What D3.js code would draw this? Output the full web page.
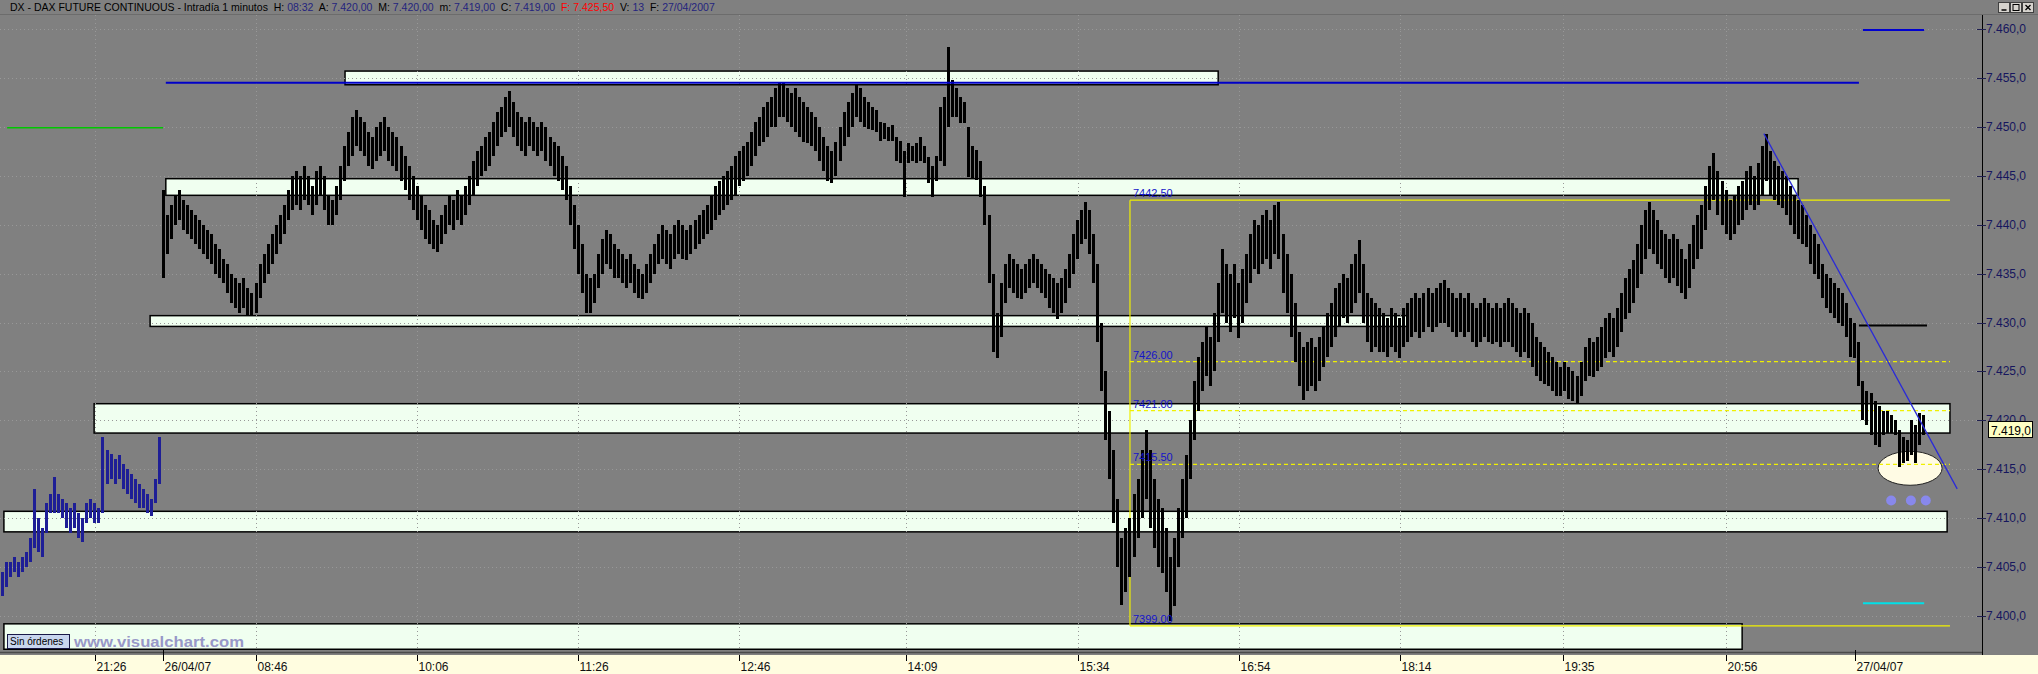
<!DOCTYPE html>
<html>
<head>
<meta charset="utf-8">
<script src="https://cdn.jsdelivr.net/npm/d3@7/dist/d3.min.js"></script>
<style>
  html, body { margin: 0; padding: 0; background: #808080; overflow: hidden; }
  text { white-space: pre; }
</style>
</head>
<body>
<div id="stage"></div>
<script>
// 2-minute high/low bars, previous session (25/04, blue)
const prevHigh = [7404.5, 7405.5, 7405.5, 7406, 7405.5, 7406, 7406.5, 7408, 7413, 7410,
  7409, 7411.5, 7412.5, 7414.2, 7412.5, 7412, 7411.5, 7411, 7411.5, 7410.5,
  7410, 7411.5, 7412, 7411.5, 7411, 7418.3, 7417, 7416.6, 7416, 7416.5,
  7415.5, 7415, 7414.5, 7414, 7413.5, 7413, 7412.5, 7412, 7414, 7418.3];
const prevLow = [7402, 7403, 7404, 7404.5, 7404, 7404.5, 7405, 7405.5, 7407, 7406.5,
  7406, 7408.5, 7410.5, 7410.5, 7410.5, 7410, 7409, 7408.5, 7409, 7408,
  7407.6, 7409.5, 7410, 7409.5, 7409.5, 7410.5, 7413.5, 7414, 7413.5, 7414,
  7413, 7412.5, 7412, 7411.5, 7411, 7411, 7410.5, 7410.2, 7411.5, 7413.5];

// 26/04 and 27/04 session (black), starting at bar 40
const dayHigh = [
  7443.5, 7441, 7442, 7443, 7443.5, 7442.5, 7442, 7441.5, 7441, 7440.5,
  7440, 7439.5, 7439, 7438, 7437.5, 7436.5, 7436, 7435, 7434.5, 7434,
  7434.5, 7433.5, 7433, 7434, 7436, 7437, 7438, 7439, 7440, 7441,
  7442, 7443.5, 7445, 7445.5, 7445, 7446, 7445, 7444, 7445.5, 7446,
  7445, 7443, 7442.5, 7444, 7446, 7448, 7449.5, 7451, 7451.7, 7451,
  7450.5, 7449.5, 7449, 7450, 7450.5, 7451, 7450, 7449.5, 7449, 7448,
  7447, 7446, 7445, 7444, 7443, 7442, 7441.5, 7440.5, 7440, 7441,
  7442, 7443, 7442.5, 7443.5, 7443, 7444, 7445, 7446.5, 7447.5, 7448,
  7449, 7449.5, 7450.5, 7451.5, 7452, 7453, 7453.7, 7452.5, 7451.5, 7451,
  7450.5, 7451, 7450.5, 7450, 7450.5, 7450, 7449, 7448.5, 7448, 7447,
  7446, 7444, 7442, 7440, 7438, 7435, 7434.5, 7435, 7437, 7438.5,
  7439.5, 7439, 7438, 7437.5, 7437, 7436.5, 7437, 7436, 7435.5, 7435,
  7436, 7437, 7438, 7439, 7440, 7439.5, 7439, 7440, 7440.5, 7440,
  7439.5, 7440, 7440.5, 7441, 7441.5, 7442, 7443, 7444, 7444.5, 7445,
  7445.5, 7446, 7447, 7447.5, 7448, 7448.5, 7449.5, 7450.5, 7451, 7452,
  7452.5, 7453, 7454, 7454.5, 7454.6, 7454, 7453.5, 7454, 7453, 7452.5,
  7452, 7451.5, 7451, 7450, 7449, 7448, 7447.5, 7448.5, 7450, 7451.5,
  7452.5, 7453.5, 7454.3, 7454, 7453, 7452.5, 7452, 7451.7, 7450.5, 7450.4,
  7450, 7450.2, 7449, 7448.6, 7447.5, 7448.3, 7448, 7448.3, 7449, 7448,
  7446.9, 7446, 7447, 7452, 7453, 7458.2, 7454.8, 7454, 7453, 7452.5,
  7450, 7448, 7447.6, 7446.5, 7444, 7441, 7435, 7431, 7434, 7436,
  7437, 7436.5, 7436, 7435.5, 7436, 7436.5, 7437, 7436.5, 7436, 7435.5,
  7435, 7434.5, 7434, 7434.5, 7435.5, 7437, 7439, 7440.5, 7441.5, 7442.3,
  7441.5, 7439, 7436, 7430, 7425, 7421, 7417, 7412, 7408, 7409,
  7410, 7412.5, 7414, 7417, 7419, 7417, 7414, 7412, 7411, 7409,
  7406, 7408, 7411, 7414, 7416.5, 7420, 7424, 7426.5, 7428, 7429.5,
  7428.5, 7431, 7434, 7437.5, 7436, 7435, 7436, 7434, 7435.5, 7437,
  7439, 7440.5, 7440, 7441, 7441.5, 7440.5, 7442, 7442.3, 7439, 7437,
  7435, 7432, 7429, 7427.5, 7428, 7428.4, 7427.5, 7428.5, 7429.5, 7431,
  7432, 7433.5, 7434, 7435, 7434.5, 7436, 7437, 7438.4, 7436, 7433,
  7432.5, 7432, 7431.5, 7431, 7430.5, 7431.5, 7431, 7430.5, 7431.5, 7432,
  7432.5, 7433, 7432.5, 7433, 7433.5, 7433, 7433.5, 7434, 7434.3, 7433.5,
  7433, 7432.5, 7433, 7432.5, 7433, 7432, 7431.5, 7432, 7432.5, 7432,
  7431.5, 7432, 7431.5, 7432, 7432.5, 7432, 7431.5, 7431, 7431.5, 7431,
  7430, 7428.5, 7428, 7427.5, 7427, 7426.5, 7426, 7425.5, 7426, 7425.5,
  7425, 7424.5, 7426, 7427.5, 7428.4, 7428, 7428.5, 7429.5, 7430.5, 7431,
  7430.5, 7431.5, 7433, 7434.5, 7435.5, 7436.4, 7438, 7440, 7441.5, 7442.3,
  7441.5, 7440.5, 7439.5, 7439, 7438.5, 7439, 7438.5, 7437.5, 7436.5, 7438,
  7440, 7441, 7442, 7444, 7446, 7447.3, 7445.5, 7444.5, 7443.5, 7442.5,
  7443, 7444, 7444.5, 7445.5, 7446, 7445, 7446.3, 7448, 7449.3, 7447.5,
  7446.5, 7446, 7445.5, 7445, 7444, 7443, 7442.5, 7442, 7441, 7440,
  7439, 7438, 7436, 7435, 7434.5, 7434, 7433.5, 7433, 7432, 7430.5,
  7430, 7428, 7424, 7423, 7422.8, 7422, 7421.5, 7421, 7421, 7420.5,
  7420, 7419, 7418.3, 7418, 7420, 7419.5, 7420.7, 7420.5];
const dayLow = [
  7434.5, 7437, 7438.5, 7440, 7440.5, 7439.5, 7439, 7438.5, 7438, 7437.5,
  7437, 7436.5, 7436, 7435, 7434.5, 7434, 7433, 7432, 7431.5, 7431,
  7431.5, 7430.8, 7430.8, 7431, 7432.5, 7434, 7435, 7436, 7437, 7438,
  7439, 7440.5, 7441.5, 7442, 7441.5, 7442.5, 7442, 7441, 7442, 7443,
  7441.5, 7440, 7440, 7441, 7442.5, 7444.5, 7446, 7447, 7448, 7447.5,
  7447, 7446, 7445.7, 7446.5, 7447, 7447.5, 7446.5, 7446, 7445.5, 7444.5,
  7443.5, 7442.5, 7441.5, 7440.5, 7439.5, 7438.5, 7438, 7437.5, 7437.2, 7438,
  7439, 7440, 7439.5, 7440.5, 7440, 7441, 7442, 7443, 7444, 7445,
  7445.5, 7446, 7447, 7448, 7449, 7449.5, 7450, 7449, 7448, 7447.5,
  7447, 7448, 7447.5, 7447, 7447.5, 7446.5, 7446, 7445, 7444.5, 7443.5,
  7442.5, 7440, 7437.5, 7435, 7433, 7431, 7431, 7432, 7433.5, 7435,
  7436, 7435.5, 7434.5, 7434.5, 7434, 7433.5, 7434, 7433, 7432.5, 7432.4,
  7433, 7434, 7435, 7436, 7436.5, 7436, 7435.5, 7436.5, 7437, 7436.5,
  7436.4, 7437, 7437.5, 7438, 7438.5, 7439, 7439.5, 7440.5, 7441, 7441.5,
  7442, 7442.5, 7443, 7444, 7444.5, 7445, 7446, 7447, 7448, 7448.5,
  7449, 7450, 7450, 7451, 7451, 7450.5, 7450, 7449.5, 7449, 7448.5,
  7448.3, 7448, 7447.5, 7446.5, 7445.5, 7444.5, 7444.3, 7445, 7446.5, 7448,
  7449, 7450, 7451, 7450.5, 7450, 7449.8, 7449.7, 7449.5, 7448.6, 7448.8,
  7448.6, 7448.6, 7446.5, 7446.3, 7442.8, 7446.3, 7446.5, 7446.3, 7446.5, 7446.3,
  7444.3, 7442.8, 7444.5, 7446.5, 7446, 7450, 7451, 7451, 7450.4, 7450.4,
  7444.9, 7444.8, 7444.6, 7442.8, 7440, 7434, 7427, 7426.4, 7428.5, 7432,
  7433.5, 7433, 7432.5, 7432.4, 7433, 7433.5, 7434, 7433.5, 7433, 7432.5,
  7431.5, 7431, 7430.4, 7431, 7432, 7433.5, 7435, 7436.5, 7438, 7438.5,
  7437, 7434, 7428, 7423, 7418, 7414, 7409.5, 7405, 7401.1, 7402.5,
  7404, 7406, 7408, 7410, 7412, 7409, 7407, 7405, 7404.4, 7402.5,
  7399.5, 7401, 7405, 7408, 7410, 7414, 7418, 7421, 7423, 7424.5,
  7423.5, 7425, 7428, 7431, 7430, 7429, 7430.5, 7428.4, 7430, 7432,
  7434, 7435.5, 7435, 7436, 7436.5, 7435.5, 7437, 7436.5, 7433, 7431,
  7428.5, 7426, 7423.5, 7422.1, 7423, 7423.5, 7423, 7424, 7425.5, 7426.5,
  7427.5, 7428.5, 7429.5, 7430.5, 7430, 7431, 7432, 7433, 7430, 7428,
  7427, 7427.5, 7427, 7427, 7426.5, 7427.5, 7427, 7426.4, 7427.5, 7428,
  7428.5, 7429, 7428.4, 7429, 7429.5, 7429, 7429.5, 7430, 7430, 7429.5,
  7429, 7428.5, 7429, 7428.5, 7429, 7428, 7427.5, 7428, 7428.5, 7428,
  7427.8, 7428, 7427.5, 7428, 7428, 7427.5, 7427, 7426.5, 7427, 7426.4,
  7425.5, 7424.5, 7424, 7423.7, 7423.5, 7423, 7422.5, 7422.5, 7423, 7422.2,
  7422, 7421.7, 7422.5, 7424, 7424.5, 7424.4, 7425, 7425.5, 7426.4, 7427,
  7426.5, 7427.5, 7429, 7430.4, 7431, 7432, 7433.5, 7435, 7436.5, 7437.5,
  7437, 7436, 7435.5, 7434.5, 7434, 7434.5, 7433.7, 7433, 7432.4, 7433.5,
  7435.5, 7436.5, 7437.5, 7439.5, 7441.5, 7442.5, 7441, 7440, 7439, 7438.4,
  7439, 7440, 7440.5, 7441.5, 7442, 7441.5, 7442, 7443, 7444.5, 7443,
  7442.5, 7442, 7441.7, 7441, 7440, 7439, 7438.5, 7438, 7437.7, 7436,
  7435, 7434.4, 7432.5, 7431.5, 7431, 7430.5, 7430, 7429.6, 7428.5, 7426.5,
  7426.4, 7423.5, 7420, 7419.5, 7418.5, 7417.5, 7417.3, 7418.5, 7418.7, 7418.7,
  7418.5, 7415.2, 7415.6, 7415.8, 7416.5, 7415.6, 7417.5, 7418.5];
const dayStart = 40;

// x axis: labels and their position in 2-minute bars
const xTickLabels = ['21:26', '26/04/07', '08:46', '10:06', '11:26', '12:46', '14:09',
  '15:34', '16:54', '18:14', '19:35', '20:56', '27/04/07'];
const xTickBars = [23, 40, 63, 103, 143, 183, 224.5, 267, 307, 347, 387.5, 428, 460];
const yTicks = [7400, 7405, 7410, 7415, 7420, 7425, 7430, 7435, 7440, 7445, 7450, 7455, 7460];

// support / resistance zones: [from bar, to bar, low, high]
const zones = [
  [85.1, 301.9, 7454.3, 7455.7],
  [40.6, 445.9, 7443.0, 7444.7],
  [36.7, 348.8, 7429.6, 7430.7],
  [22.8, 483.6, 7418.7, 7421.7],
  [0.4, 482.9, 7408.6, 7410.7],
  [0.4, 432.0, 7396.6, 7399.2]];

// fibonacci retracement from the 7399 low to 7442.5
const fibStart = 280, fibEnd = 483.6;
const fibLevels = [7442.5, 7426, 7421, 7415.5, 7399];
const fibLabels = ['7442.50', '7426.00', '7421.00', '7415.50', '7399.00'];

// horizontal marker lines: [from bar, to bar, price]
const blueLine = [40.6, 461, 7454.5];
const greenLine = [1.2, 39.9, 7449.9];
const blueShort = [462, 477.2, 7459.9];
const blackShort = [461, 477.9, 7429.7];
const cyanShort = [462, 477.2, 7401.3];
const trend = [[437.4, 7449.3], [485.4, 7413.0]];
const circleMark = [473.7, 7415.1];
const dotBars = [469, 473.9, 477.6];
const dotPrice = 7411.8;
const lastPrice = 7419;

const titleParts = [
  ['DX - DAX FUTURE CONTINUOUS - Intradía 1 minutos  H: ', 'k'], ['08:32', 'b'],
  ['  A: ', 'k'], ['7.420,00', 'b'], ['  M: ', 'k'], ['7.420,00', 'b'],
  ['  m: ', 'k'], ['7.419,00', 'b'], ['  C: ', 'k'], ['7.419,00', 'b'],
  ['  F: 7.425,50', 'r'], ['  V: ', 'k'], ['13', 'b'], ['  F: ', 'k'], ['27/04/2007', 'b']];

const W = 2038, H = 674, plotR = 1982, plotT = 15, plotB = 653;
const GREY = '#808080';
const svg = d3.select('#stage').append('svg').attr('width', W).attr('height', H)
  .style('display', 'block').attr('font-family', 'Liberation Sans, Arial, sans-serif');
const x = d3.scaleLinear().domain([0, 478]).range([2.3, 1927.4]);
const y = d3.scaleLinear().domain([7400, 7460]).range([616, 29]);
const es = d3.formatLocale({ decimal: ',', thousands: '.', grouping: [3], currency: ['', ''] });
const fmt1 = es.format(',.1f');

svg.append('rect').attr('width', W).attr('height', H).attr('fill', GREY);
svg.append('line').attr('x1', 0).attr('x2', W).attr('y1', plotT - 0.5).attr('y2', plotT - 0.5)
  .attr('stroke', '#6c6c6c');

// zones
svg.append('g').selectAll('rect').data(zones).join('rect')
  .attr('x', d => x(d[0])).attr('width', d => x(d[1]) - x(d[0]))
  .attr('y', d => y(d[3])).attr('height', d => y(d[2]) - y(d[3]))
  .attr('fill', '#f0fff0').attr('stroke', '#000').attr('stroke-width', 1.5);

// faint dotted grid
const grid = svg.append('g').attr('stroke', '#989898').attr('stroke-dasharray', '1 3');
yTicks.forEach(t => grid.append('line').attr('x1', 0).attr('x2', plotR)
  .attr('y1', Math.round(y(t)) + 0.5).attr('y2', Math.round(y(t)) + 0.5));
xTickBars.forEach((b, i) => {
  if (xTickLabels[i].includes('/')) return;
  grid.append('line').attr('x1', Math.round(x(b)) + 0.5).attr('x2', Math.round(x(b)) + 0.5)
    .attr('y1', plotT).attr('y2', plotB);
});

// highlight ellipse
svg.append('ellipse').attr('cx', x(circleMark[0])).attr('cy', y(circleMark[1]))
  .attr('rx', 32).attr('ry', 17).attr('fill', '#fffbe4').attr('stroke', '#222').attr('stroke-width', 1);

// fibonacci
const fib = svg.append('g').attr('stroke', '#f0f000').attr('stroke-width', 1.2);
fib.append('line').attr('x1', x(fibStart)).attr('x2', x(fibStart))
  .attr('y1', y(fibLevels[0])).attr('y2', y(fibLevels[4]));
fibLevels.forEach((lv, i) => {
  fib.append('line').attr('x1', x(fibStart)).attr('x2', x(fibEnd)).attr('y1', y(lv)).attr('y2', y(lv))
    .attr('stroke-dasharray', i === 0 || i === 4 ? null : '4 3');
});

// price bars
const bars = svg.append('g').attr('shape-rendering', 'crispEdges').attr('stroke-width', 3);
bars.append('g').attr('stroke', '#1e1e96').selectAll('line').data(prevHigh).join('line')
  .attr('x1', (d, i) => x(i)).attr('x2', (d, i) => x(i))
  .attr('y1', d => y(d)).attr('y2', (d, i) => y(prevLow[i]));
bars.append('g').attr('stroke', '#000').selectAll('line').data(dayHigh).join('line')
  .attr('x1', (d, i) => x(dayStart + i)).attr('x2', (d, i) => x(dayStart + i))
  .attr('y1', d => y(d)).attr('y2', (d, i) => y(dayLow[i]));

// fibonacci labels
fibLevels.forEach((lv, i) => {
  svg.append('text').attr('x', x(fibStart) + 3).attr('y', y(lv) - 3)
    .attr('font-size', 11).attr('fill', '#1414c8').text(fibLabels[i]);
});

// marker lines
const hline = (d, color, w) => svg.append('line').attr('x1', x(d[0])).attr('x2', x(d[1]))
  .attr('y1', y(d[2])).attr('y2', y(d[2])).attr('stroke', color).attr('stroke-width', w);
hline(blueLine, '#0000c8', 2);
hline(greenLine, '#00c800', 1.5);
hline(blueShort, '#0000d0', 2);
hline(blackShort, '#000', 2);
hline(cyanShort, '#00e0e8', 2);
svg.append('line').attr('x1', x(trend[0][0])).attr('y1', y(trend[0][1]))
  .attr('x2', x(trend[1][0])).attr('y2', y(trend[1][1])).attr('stroke', '#2a2ad8').attr('stroke-width', 1.3);
svg.append('g').selectAll('circle').data(dotBars).join('circle')
  .attr('cx', d => x(d)).attr('cy', y(dotPrice)).attr('r', 5)
  .attr('fill', '#8a8aff').attr('opacity', 0.85);

// right price axis
svg.append('line').attr('x1', plotR + 0.5).attr('x2', plotR + 0.5).attr('y1', plotT).attr('y2', plotB + 2)
  .attr('stroke', '#000');
yTicks.forEach(t => {
  svg.append('line').attr('x1', plotR - 5).attr('x2', plotR + 4)
    .attr('y1', Math.round(y(t)) + 0.5).attr('y2', Math.round(y(t)) + 0.5).attr('stroke', '#202050');
  svg.append('text').attr('x', plotR + 4).attr('y', y(t) + 4).attr('font-size', 12)
    .attr('fill', '#16165e').text(fmt1(t));
});
svg.append('rect').attr('x', 1988.5).attr('y', Math.round(y(lastPrice)) - 8.5).attr('width', 44).attr('height', 16)
  .attr('fill', '#ffffc4').attr('stroke', '#000');
svg.append('text').attr('x', 1991).attr('y', y(lastPrice) + 4.5).attr('font-size', 12).attr('fill', '#000')
  .text(fmt1(lastPrice));

// bottom time axis
svg.append('line').attr('x1', 0).attr('x2', plotR).attr('y1', plotB - 0.5).attr('y2', plotB - 0.5)
  .attr('stroke', '#4a4a4a').attr('stroke-width', 1.5);
svg.append('rect').attr('x', 0).attr('y', 655).attr('width', W).attr('height', H - 655).attr('fill', '#fffde0');
xTickBars.forEach((b, i) => {
  const xp = Math.round(x(b)) + 0.5;
  const isDate = xTickLabels[i].includes('/');
  svg.append('line').attr('x1', xp).attr('x2', xp).attr('y1', isDate ? 650 : 655).attr('y2', 661)
    .attr('stroke', '#000');
  svg.append('text').attr('x', xp + 1).attr('y', 671).attr('font-size', 12).attr('fill', '#111')
    .text(xTickLabels[i]);
});

// orders box + watermark
svg.append('rect').attr('x', 7.5).attr('y', 634.5).attr('width', 62).attr('height', 14)
  .attr('fill', '#c8d6ee').attr('stroke', '#1a1a48');
svg.append('text').attr('x', 10).attr('y', 645).attr('font-size', 10).attr('fill', '#000').text('Sin órdenes');
svg.append('text').attr('x', 74).attr('y', 647).attr('font-size', 15).attr('font-weight', 700)
  .attr('fill', '#9898c8').attr('textLength', 170).attr('lengthAdjust', 'spacingAndGlyphs')
  .text('www.visualchart.com');

// title
const title = svg.append('text').attr('x', 10).attr('y', 11).attr('font-size', 10.5);
const tcol = { k: '#000', b: '#24247e', r: '#ff0000' };
titleParts.forEach(([t, c]) => title.append('tspan').attr('fill', tcol[c]).text(t));

// window buttons
['min', 'max', 'close'].forEach((k, i) => {
  const bx = 1998.5 + i * 12;
  svg.append('rect').attr('x', bx).attr('y', 2.5).attr('width', 11).attr('height', 10)
    .attr('fill', '#d6d3ce').attr('stroke', '#404040');
  if (k === 'min') svg.append('line').attr('x1', bx + 3).attr('x2', bx + 8).attr('y1', 10).attr('y2', 10)
    .attr('stroke', '#000').attr('stroke-width', 1.5);
  if (k === 'max') svg.append('rect').attr('x', bx + 2.5).attr('y', 4.5).attr('width', 6).attr('height', 6)
    .attr('fill', 'none').attr('stroke', '#000');
  if (k === 'close') svg.append('path').attr('d', `M${bx + 3},5L${bx + 8},10M${bx + 8},5L${bx + 3},10`)
    .attr('stroke', '#000').attr('stroke-width', 1.3);
});
</script>
</body>
</html>
